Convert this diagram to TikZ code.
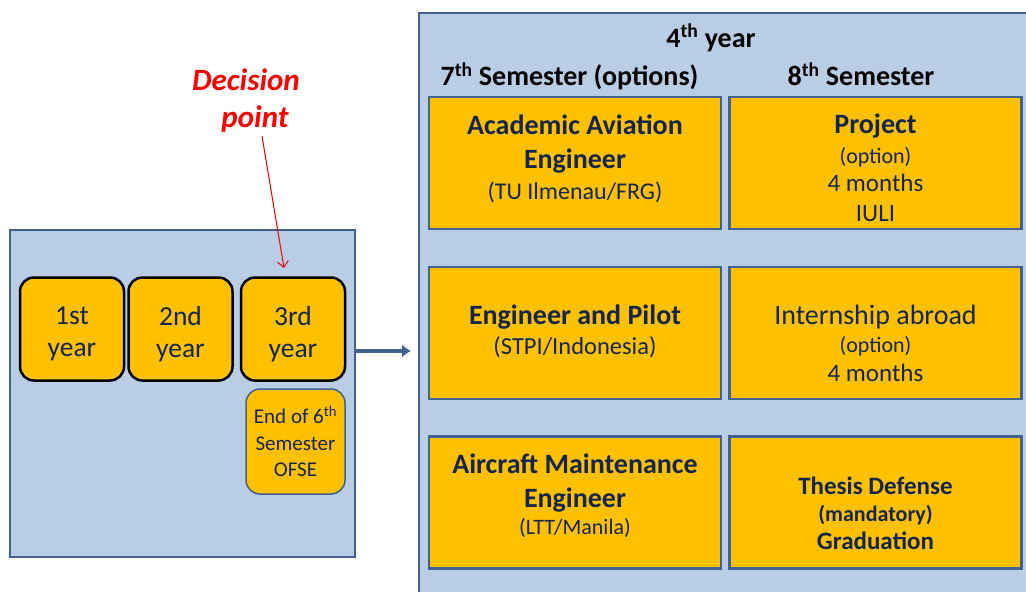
\documentclass[tikz,border=0pt]{standalone}
\usepackage{fontspec}
\setmainfont{Carlito}
\usetikzlibrary{arrows.meta}

\definecolor{paleblue}{HTML}{B9CDE5}
\definecolor{frameblue}{HTML}{41628E}
\definecolor{gold}{HTML}{FFC000}
\definecolor{navy}{HTML}{14254F}
\newcommand{\sz}[2]{\fontsize{#1}{#2}\selectfont}

\tikzset{
  panel/.style={draw=frameblue, line width=2.5pt, fill=paleblue, inner sep=0pt},
  yearbox/.style={draw=black, line width=2.5pt, fill=gold, rounded corners=14pt,
    minimum width=104pt, minimum height=103pt, inner sep=0pt},
  yeartext/.style={text=navy, align=center, inner sep=0pt, font=\sz{27.5}{32}},
  optbox/.style={draw=frameblue, line width=2.5pt, fill=gold, minimum width=292pt,
    minimum height=132pt, inner sep=0pt},
  opttext/.style={text=navy, align=center, inner sep=0pt},
  head/.style={font=\sz{28}{34}\bfseries, text=black, anchor=base}
}

\begin{document}
\begin{tikzpicture}[x=1pt, y=-1pt]
  \useasboundingbox (0,0) rectangle (1026,592);

  % left panel: years 1 to 3
  \node[panel, minimum width=345pt, minimum height=327pt] (left) at (182.5,393.5) {};
  \foreach \n/\x/\t in {1/72/1st, 2/180.5/2nd, 3/293/3rd}{
    \node[yearbox] (yr\n) at (\x,329) {};
    \node[yeartext] (yt\n) at ([yshift=-5pt]yr\n.center) {\t\\year};
  }
  \node[draw=frameblue, line width=1.5pt, fill=gold, rounded corners=14pt,
    minimum width=99pt, minimum height=105pt, inner sep=0pt, text=navy,
    align=center, font=\sz{21}{26.5}] (ofse) at (295.5,441.5)
    {End of 6\textsuperscript{th}\\Semester\\OFSE};

  % decision point
  \node[text=red, font=\sz{31}{37}\bfseries\itshape, align=center, inner sep=0pt] (dec) at (246,101)
    {Decision\\\hspace*{18pt}point};
  \coordinate (pick) at (284,268);
  \draw[red, line width=1pt, -{Straight Barb[length=6pt, width=11pt]}]
    ([xshift=16pt, yshift=-3pt]dec.south) -- (pick);

  % right panel: 4th year
  \node[panel, line width=2pt, minimum width=621pt, minimum height=597pt] (right) at (729.5,311.5) {};
  \node[head] (y4) at (711,47) {4\textsuperscript{th} year};
  \node[head] (s7) at (569.5,85.5) {7\textsuperscript{th} Semester (options)};
  \node[head] (s8) at (861,85.5) {8\textsuperscript{th} Semester};

  \node[optbox] (aae) at (575,163) {};
  \node[optbox] (eap) at (575,333) {};
  \node[optbox] (ame) at (575,502.5) {};
  \node[optbox] (prj) at (875.5,163) {};
  \node[optbox] (int) at (875.5,333) {};
  \node[optbox] (ths) at (875.5,502.5) {};

  \node[opttext, font=\sz{28}{34}] (aaeT) at ([yshift=4pt]aae.center)
    {\bfseries Academic Aviation\\\bfseries Engineer\\[-3pt]
     \sz{24}{29}(TU Ilmenau/FRG)};
  \node[opttext, font=\sz{28}{30}] (eapT) at ([yshift=2pt]eap.center)
    {\bfseries Engineer and Pilot\\\sz{24.5}{29}(STPI/Indonesia)};
  \node[opttext, font=\sz{28}{34}] (ameT) at ([yshift=7pt]ame.center)
    {\bfseries Aircraft Maintenance\\\bfseries Engineer\\[-7pt]
     \sz{22}{27}(LTT/Manila)};

  \node[opttext, font=\sz{28}{29}] (prjT) at ([yshift=-5pt]prj.center)
    {\bfseries Project\\[1pt]\sz{22}{27}(option)\\[-1pt]\sz{25}{29}4 months\\[1pt]\sz{25}{29}IULI};
  \node[opttext, font=\sz{28}{28}] (intT) at ([yshift=-10pt]int.center)
    {Internship abroad\\\sz{22}{27}(option)\\[1pt]\sz{25}{29}4 months};
  \node[opttext, font=\sz{25}{27}\bfseries] (thsT) at ([yshift=-11pt]ths.center)
    {Thesis Defense\\\sz{22}{27}\bfseries (mandatory)\\[1.5pt]\bfseries Graduation};

  % link to 4th year
  \draw[frameblue, line width=4pt, -{Latex[length=9pt, width=13pt]}, shorten >=7pt]
    ([yshift=42.5pt]left.east) -- ([yshift=-39.5pt]right.west);
\end{tikzpicture}
\end{document}
